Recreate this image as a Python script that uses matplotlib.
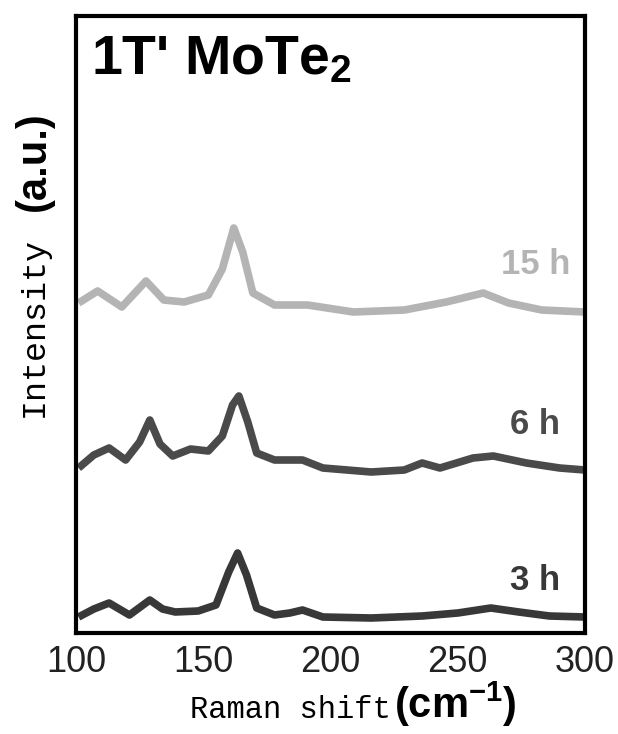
import numpy as np
import matplotlib.pyplot as plt

# Raman shift (cm-1) and intensity (a.u.)
shift_3h = [101, 107, 113, 121, 129, 134, 139, 148, 155, 160, 163.5, 167, 171, 178, 184, 189, 197, 216, 236, 250, 263, 274, 286, 300]
int_3h = [16, 24, 30, 18, 33, 24, 21, 22, 28, 61, 80, 58, 25, 18, 20, 23, 16, 15, 17, 20, 25, 21, 17, 16]

shift_6h = [101, 107, 113, 119.5, 125, 129, 133, 138, 145, 152, 157.5, 161.5, 164, 167.5, 171, 178, 189, 197, 216, 229, 236, 243, 256, 264, 277, 290, 300]
int_6h = [165, 178, 185, 173, 191, 213, 189, 177, 184, 182, 197, 228, 237, 211, 180, 173, 173, 165, 161, 163, 170, 165, 175, 177, 170, 165, 163]

shift_15h = [101, 108.5, 118, 127.5, 134.5, 142.5, 152, 157.5, 162, 165.5, 169.5, 178, 191, 209, 229, 245.5, 260, 270, 283, 300]
int_15h = [330, 342, 326, 352, 333, 331, 338, 364, 405, 381, 340, 328, 328, 321, 323, 331, 340, 330, 323, 321]

labels = ['3 h', '6 h', '15 h']
label_y = [53, 209, 368]
colors = ['#383838', '#4a4a4a', '#b4b4b4']
xticks = [100, 150, 200, 250, 300]

plt.rcParams['mathtext.fontset'] = 'custom'
plt.rcParams['mathtext.rm'] = 'Liberation Sans:bold'
plt.rcParams['mathtext.bf'] = 'Liberation Sans:bold'
plt.rcParams['mathtext.default'] = 'bf'

fig = plt.figure(figsize=(6.18, 7.34), dpi=100)
ax = fig.add_axes([76 / 618, 1 - 633 / 734, 509 / 618, 617 / 734])

series = [(shift_3h, int_3h), (shift_6h, int_6h), (shift_15h, int_15h)]
for (x, y), c, lab, ly in zip(series, colors, labels, label_y):
    ax.plot(x, y, color=c, lw=5.5, solid_joinstyle='round', solid_capstyle='butt')
    ax.text(280.5, ly, lab, color=c, fontsize=25, fontweight='bold',
            family='Liberation Sans', ha='center', va='center')

ax.set_xlim(100, 300)
ax.set_ylim(0, 617)
ax.set_yticks([])
ax.set_xticks(xticks)
ax.set_xticklabels([str(t) for t in xticks], family='Liberation Sans',
                   fontsize=26, color='#222222')
ax.tick_params(axis='x', length=0, pad=9)
for s in ax.spines.values():
    s.set_linewidth(3)
    s.set_color('black')

ax.text(0.03, 0.97, "1T' MoTe$_{2}$", transform=ax.transAxes, fontsize=40,
        fontweight='bold', family='Liberation Sans', ha='left', va='top')

# axis labels: serif mono part + bold sans unit part
fig.text(391 / 618, 1 - 718 / 734, 'Raman shift', family='Liberation Mono', fontsize=22,
         ha='right', va='baseline')
fig.text(394 / 618, 1 - 718 / 734, '(cm$^{-1}$)', family='Liberation Sans', fontweight='bold',
         fontsize=30, ha='left', va='baseline')

fig.text(34 / 618, 1 - 327 / 734, 'Intensity', family='Liberation Mono', fontsize=24,
         rotation=90, ha='center', va='center')
fig.text(34 / 618, 1 - 161 / 734, '(a.u.)', family='Liberation Sans', fontweight='bold',
         fontsize=30, rotation=90, ha='center', va='center')

fig.savefig('out.png', dpi=100)
